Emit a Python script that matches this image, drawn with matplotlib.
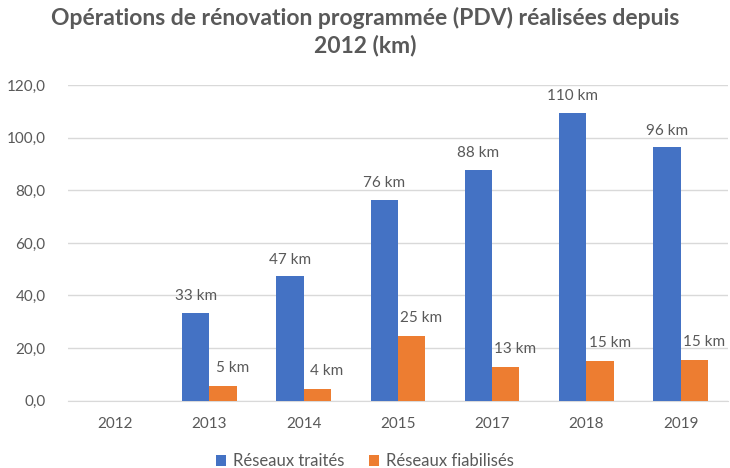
import matplotlib
matplotlib.use("Agg")
import matplotlib.pyplot as plt
import numpy as np

years = ["2012", "2013", "2014", "2015", "2017", "2018", "2019"]
traites = [0, 33.5, 47.3, 76.3, 87.7, 109.5, 96.3]
fiabilises = [0, 5.5, 4.4, 24.7, 12.7, 15.1, 15.5]
traites_lbl = [None, 33, 47, 76, 88, 110, 96]
fiabilises_lbl = [None, 5, 4, 25, 13, 15, 15]

plt.rcParams['font.family'] = ['Lato', 'DejaVu Sans']
grey = '#595959'

fig = plt.figure(figsize=(7.3, 4.68), dpi=100)
ax = fig.add_axes([0.093, 0.144, 0.904, 0.674])

x = np.arange(len(years))
w = 0.29
b1 = ax.bar(x - w / 2, traites, w, color='#4472c4', label='Réseaux traités', zorder=3)
b2 = ax.bar(x + w / 2, fiabilises, w, color='#ed7d31', label='Réseaux fiabilisés', zorder=3)

for rect, lbl in zip(b1, traites_lbl):
    if lbl is None:
        continue
    ax.annotate(f"{lbl} km", (rect.get_x() + rect.get_width() / 2, rect.get_height()),
                xytext=(0, 12), textcoords='offset points', ha='center', va='center',
                fontsize=11, color=grey)
for rect, lbl in zip(b2, fiabilises_lbl):
    if lbl is None:
        continue
    ax.annotate(f"{lbl} km", (rect.get_x() + rect.get_width() / 2, rect.get_height()),
                xytext=(7, 13), textcoords='offset points', ha='center', va='center',
                fontsize=11, color=grey)

ax.set_xlim(-0.5, len(years) - 0.5)
ax.set_ylim(0, 120)
ax.set_yticks(np.arange(0, 121, 20))
ax.set_yticklabels([f"{v:.1f}".replace('.', ',') for v in np.arange(0, 121, 20)])
ax.set_xticks(x)
ax.set_xticklabels(years)
ax.tick_params(axis='both', length=0, labelsize=11, labelcolor=grey)
ax.tick_params(axis='x', pad=12)
ax.tick_params(axis='y', pad=16)
ax.grid(axis='y', color='#d9d9d9', linewidth=1, zorder=0)
for s in ['top', 'right', 'left']:
    ax.spines[s].set_visible(False)
ax.spines['bottom'].set_color('#d9d9d9')

fig.suptitle("Opérations de rénovation programmée (PDV) réalisées depuis\n2012 (km)",
             x=0.5, y=0.985, fontsize=16.5, fontweight='bold', color=grey, linespacing=1.3)

fig.legend(loc='lower center', bbox_to_anchor=(0.5, -0.035), ncol=2, frameon=False,
           fontsize=12, labelcolor=grey, handlelength=0.6, handleheight=0.6,
           handletextpad=0.4, columnspacing=1.5)

fig.savefig('out.png', dpi=100)
